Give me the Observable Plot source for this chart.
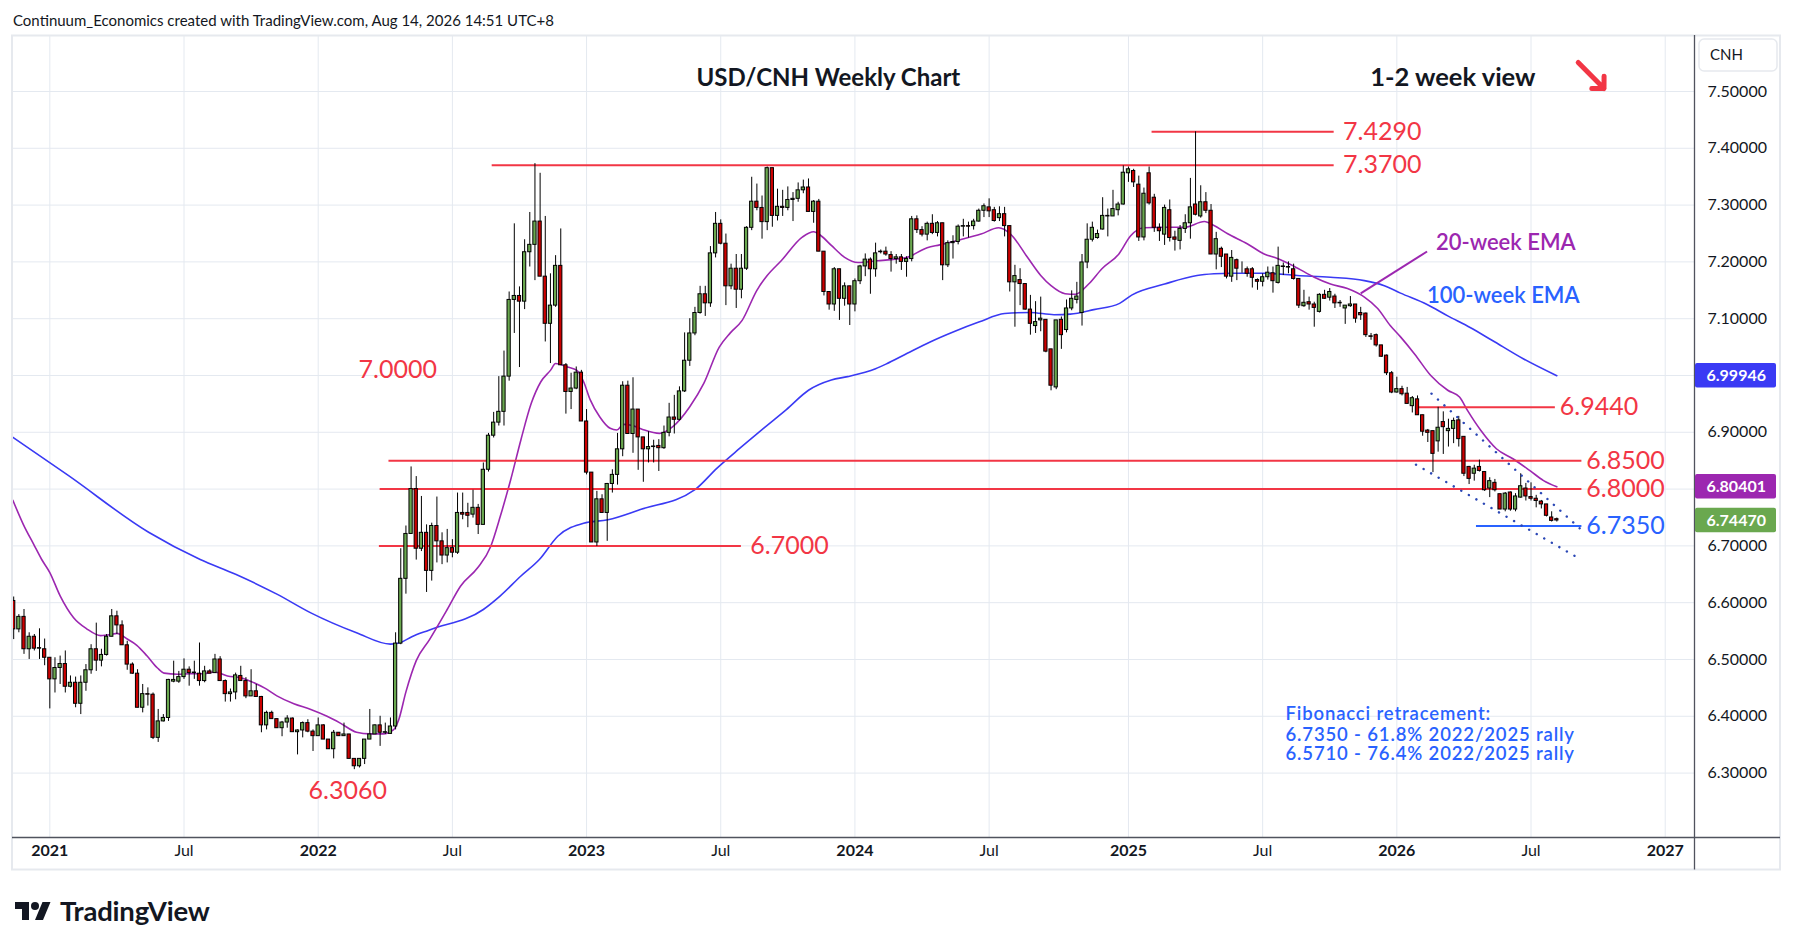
<!DOCTYPE html>
<html>
<head>
<meta charset="utf-8">
<script src="https://cdn.jsdelivr.net/npm/d3@7"></script>
<script src="https://cdn.jsdelivr.net/npm/@observablehq/plot@0.6"></script>
<style>
  html, body { margin: 0; padding: 0; background: #ffffff; }
  body { width: 1794px; height: 946px; position: relative; overflow: hidden; font-family: Lato, "Open Sans", sans-serif; }
  #attr { position: absolute; left: 13px; top: 10px; font-size: 15px; line-height: 20px; color: #131722; white-space: nowrap; }
  #chart { position: absolute; left: 0; top: 35px; }
  #logo { position: absolute; left: 14px; top: 895px; height: 30px; display: flex; align-items: center; gap: 8px; color: #131722; }
  #logo span { font-size: 27.5px; font-weight: 700; letter-spacing: -0.2px; }
</style>
</head>
<body>
<div id="attr">Continuum_Economics created with TradingView.com, Aug 14, 2026 14:51 UTC+8</div>
<div id="chart"></div>
<div id="logo">
  <svg width="38" height="24" viewBox="0 0 36 24"><path fill="#131722" d="M14 22H7V11H0V4h14v18z"/><circle fill="#131722" cx="20" cy="8" r="4"/><path fill="#131722" d="M28 22h-8l7.5-18h8L28 22z"/></svg>
  <span>TradingView</span>
</div>
<script>
// ---------------- DATA ----------------
// Weekly OHLC rows: [week (Monday), open, high, low, close]
const ohlc2020 = [
  ["2020-11-16",6.603,6.610,6.535,6.553],["2020-11-23",6.553,6.579,6.547,6.575],["2020-11-30",6.575,6.588,6.509,6.518],
  ["2020-12-07",6.518,6.547,6.500,6.540],["2020-12-14",6.540,6.544,6.515,6.519],["2020-12-21",6.519,6.554,6.500,6.520],
  ["2020-12-28",6.518,6.536,6.489,6.503]
];
const ohlc2021 = [
  ["2021-01-04",6.503,6.503,6.413,6.465],["2021-01-11",6.465,6.503,6.441,6.485],["2021-01-18",6.485,6.506,6.456,6.492],
  ["2021-01-25",6.492,6.515,6.441,6.452],["2021-02-01",6.452,6.471,6.450,6.459],["2021-02-08",6.459,6.469,6.415,6.422],
  ["2021-02-15",6.422,6.471,6.403,6.459],["2021-02-22",6.459,6.491,6.444,6.481],["2021-03-01",6.481,6.526,6.474,6.518],
  ["2021-03-08",6.518,6.564,6.479,6.498],["2021-03-15",6.498,6.518,6.487,6.508],["2021-03-22",6.508,6.544,6.506,6.540],
  ["2021-03-29",6.540,6.588,6.540,6.576],["2021-04-05",6.576,6.585,6.544,6.560],["2021-04-12",6.560,6.568,6.525,6.525],
  ["2021-04-19",6.525,6.532,6.481,6.491],["2021-04-26",6.491,6.494,6.474,6.475],["2021-05-03",6.475,6.482,6.415,6.415],
  ["2021-05-10",6.415,6.456,6.406,6.439],["2021-05-17",6.439,6.450,6.418,6.438],["2021-05-24",6.438,6.441,6.359,6.362],
  ["2021-05-31",6.362,6.412,6.354,6.391],["2021-06-07",6.391,6.403,6.390,6.397],["2021-06-14",6.397,6.465,6.391,6.464],
  ["2021-06-21",6.461,6.497,6.459,6.464],["2021-06-28",6.461,6.479,6.458,6.469],["2021-07-05",6.469,6.501,6.465,6.482],
  ["2021-07-12",6.482,6.487,6.453,6.476],["2021-07-19",6.476,6.497,6.465,6.477],["2021-07-26",6.475,6.529,6.453,6.462],
  ["2021-08-02",6.462,6.488,6.459,6.479],["2021-08-09",6.479,6.482,6.475,6.475],["2021-08-16",6.476,6.509,6.476,6.500],
  ["2021-08-23",6.500,6.505,6.462,6.462],["2021-08-30",6.462,6.464,6.425,6.439],["2021-09-06",6.439,6.448,6.425,6.442],
  ["2021-09-13",6.442,6.476,6.429,6.472],["2021-09-20",6.471,6.488,6.462,6.462],["2021-09-27",6.462,6.468,6.431,6.435],
  ["2021-10-04",6.435,6.482,6.435,6.444],["2021-10-11",6.444,6.456,6.434,6.434],["2021-10-18",6.434,6.435,6.371,6.384],
  ["2021-10-25",6.384,6.409,6.376,6.406],["2021-11-01",6.406,6.409,6.395,6.395],["2021-11-08",6.395,6.395,6.379,6.379],
  ["2021-11-15",6.379,6.391,6.364,6.389],["2021-11-22",6.389,6.401,6.379,6.396],["2021-11-29",6.396,6.397,6.372,6.372],
  ["2021-12-06",6.372,6.376,6.332,6.375],["2021-12-13",6.375,6.390,6.362,6.388],["2021-12-20",6.388,6.394,6.371,6.373],
  ["2021-12-27",6.373,6.376,6.338,6.365]
];
const ohlc2022 = [
  ["2022-01-03",6.365,6.397,6.365,6.384],["2022-01-10",6.384,6.385,6.359,6.359],["2022-01-17",6.359,6.359,6.342,6.342],
  ["2022-01-24",6.342,6.375,6.325,6.371],["2022-01-31",6.371,6.371,6.365,6.365],["2022-02-07",6.365,6.388,6.365,6.368],
  ["2022-02-14",6.368,6.368,6.325,6.325],["2022-02-21",6.325,6.325,6.306,6.312],["2022-02-28",6.312,6.325,6.309,6.325],
  ["2022-03-07",6.325,6.359,6.315,6.359],["2022-03-14",6.359,6.412,6.359,6.368],["2022-03-21",6.368,6.385,6.368,6.384],
  ["2022-03-28",6.384,6.400,6.347,6.371],["2022-04-04",6.371,6.388,6.368,6.372],["2022-04-11",6.369,6.397,6.369,6.382],
  ["2022-04-18",6.382,6.547,6.376,6.528],["2022-04-25",6.528,6.695,6.526,6.642],["2022-05-02",6.642,6.735,6.615,6.721],
  ["2022-05-09",6.721,6.839,6.721,6.800],["2022-05-16",6.800,6.822,6.675,6.695],["2022-05-23",6.695,6.787,6.690,6.723],
  ["2022-05-30",6.723,6.737,6.618,6.656],["2022-06-06",6.656,6.740,6.638,6.735],["2022-06-13",6.735,6.786,6.670,6.708],
  ["2022-06-20",6.708,6.723,6.667,6.683],["2022-06-27",6.683,6.729,6.670,6.696],["2022-07-04",6.696,6.711,6.679,6.688],
  ["2022-07-11",6.688,6.793,6.685,6.758],["2022-07-18",6.758,6.793,6.746,6.755],["2022-07-25",6.758,6.775,6.732,6.753],
  ["2022-08-01",6.755,6.798,6.749,6.767],["2022-08-08",6.767,6.773,6.720,6.737],["2022-08-15",6.737,6.846,6.737,6.834],
  ["2022-08-22",6.834,6.898,6.830,6.894],["2022-08-29",6.894,6.935,6.890,6.917],["2022-09-05",6.917,6.998,6.911,6.936],
  ["2022-09-12",6.936,7.043,6.911,6.998],["2022-09-19",6.998,7.147,6.990,7.133],["2022-09-26",7.133,7.267,7.074,7.140],
  ["2022-10-03",7.140,7.156,7.014,7.130],["2022-10-10",7.130,7.239,7.116,7.217],["2022-10-17",7.217,7.287,7.191,7.230],
  ["2022-10-24",7.230,7.373,7.167,7.271],["2022-10-31",7.271,7.356,7.174,7.174],["2022-11-07",7.174,7.280,7.059,7.091],
  ["2022-11-14",7.091,7.179,7.021,7.123],["2022-11-21",7.123,7.211,7.120,7.193],["2022-11-28",7.193,7.258,7.018,7.018],
  ["2022-12-05",7.018,7.021,6.932,6.971],["2022-12-12",6.971,7.004,6.940,6.977],["2022-12-19",6.977,7.015,6.975,7.005],
  ["2022-12-26",7.005,7.009,6.919,6.919]
];
const ohlc2023 = [
  ["2023-01-02",6.919,6.940,6.825,6.829],["2023-01-09",6.829,6.829,6.706,6.706],["2023-01-16",6.706,6.796,6.699,6.782],
  ["2023-01-23",6.782,6.790,6.758,6.758],["2023-01-30",6.758,6.810,6.708,6.809],["2023-02-06",6.809,6.834,6.793,6.825],
  ["2023-02-13",6.825,6.898,6.807,6.870],["2023-02-20",6.870,6.989,6.857,6.982],["2023-02-27",6.982,6.990,6.897,6.897],
  ["2023-03-06",6.897,6.996,6.863,6.940],["2023-03-13",6.940,6.940,6.833,6.891],["2023-03-20",6.891,6.891,6.812,6.870],
  ["2023-03-27",6.870,6.901,6.846,6.874],["2023-04-03",6.874,6.886,6.846,6.875],["2023-04-10",6.876,6.887,6.831,6.872],
  ["2023-04-17",6.872,6.911,6.870,6.899],["2023-04-24",6.899,6.951,6.892,6.926],["2023-05-01",6.926,6.965,6.897,6.922],
  ["2023-05-08",6.922,6.980,6.920,6.972],["2023-05-15",6.972,7.075,6.970,7.026],["2023-05-22",7.026,7.100,7.016,7.074],
  ["2023-05-29",7.074,7.120,7.070,7.110],["2023-06-05",7.110,7.157,7.108,7.143],["2023-06-12",7.143,7.157,7.104,7.127],
  ["2023-06-19",7.127,7.227,7.120,7.215],["2023-06-26",7.215,7.287,7.207,7.267],["2023-07-03",7.267,7.274,7.230,7.232],
  ["2023-07-10",7.232,7.249,7.123,7.157],["2023-07-17",7.157,7.196,7.151,7.188],["2023-07-24",7.188,7.213,7.118,7.151],
  ["2023-07-31",7.151,7.213,7.135,7.188],["2023-08-07",7.188,7.262,7.185,7.260],["2023-08-14",7.260,7.349,7.255,7.306],
  ["2023-08-21",7.306,7.337,7.290,7.295],["2023-08-28",7.295,7.316,7.240,7.270],["2023-09-04",7.270,7.367,7.255,7.365],
  ["2023-09-11",7.365,7.365,7.261,7.281],["2023-09-18",7.281,7.328,7.272,7.297],["2023-09-25",7.297,7.326,7.280,7.295],
  ["2023-10-02",7.295,7.332,7.290,7.309],["2023-10-09",7.309,7.322,7.271,7.311],["2023-10-16",7.311,7.339,7.305,7.326],
  ["2023-10-23",7.326,7.344,7.320,7.331],["2023-10-30",7.331,7.346,7.288,7.288],["2023-11-06",7.288,7.308,7.268,7.306],
  ["2023-11-13",7.306,7.310,7.218,7.218],["2023-11-20",7.218,7.218,7.140,7.147],["2023-11-27",7.147,7.147,7.115,7.125],
  ["2023-12-04",7.125,7.190,7.113,7.187],["2023-12-11",7.187,7.187,7.097,7.135],["2023-12-18",7.135,7.163,7.122,7.157],
  ["2023-12-25",7.157,7.157,7.088,7.125]
];
const ohlc2024 = [
  ["2024-01-01",7.125,7.170,7.112,7.166],["2024-01-08",7.166,7.194,7.160,7.192],["2024-01-15",7.192,7.214,7.174,7.204],
  ["2024-01-22",7.204,7.207,7.143,7.187],["2024-01-29",7.187,7.233,7.173,7.215],["2024-02-05",7.217,7.221,7.214,7.218],
  ["2024-02-12",7.218,7.226,7.210,7.213],["2024-02-19",7.212,7.218,7.182,7.205],["2024-02-26",7.205,7.213,7.196,7.208],
  ["2024-03-04",7.208,7.213,7.185,7.200],["2024-03-11",7.200,7.209,7.173,7.205],["2024-03-18",7.205,7.280,7.200,7.275],
  ["2024-03-25",7.275,7.281,7.250,7.256],["2024-04-01",7.256,7.262,7.244,7.248],["2024-04-08",7.248,7.270,7.237,7.267],
  ["2024-04-15",7.267,7.283,7.248,7.251],["2024-04-22",7.251,7.271,7.244,7.268],["2024-04-29",7.268,7.268,7.167,7.194],
  ["2024-05-06",7.194,7.237,7.190,7.233],["2024-05-13",7.233,7.246,7.205,7.235],["2024-05-20",7.235,7.265,7.230,7.262],
  ["2024-05-27",7.262,7.275,7.244,7.263],["2024-06-03",7.263,7.270,7.242,7.262],["2024-06-10",7.263,7.275,7.256,7.271],
  ["2024-06-17",7.271,7.293,7.270,7.290],["2024-06-24",7.290,7.302,7.278,7.298],["2024-07-01",7.296,7.311,7.278,7.289],
  ["2024-07-08",7.291,7.296,7.270,7.272],["2024-07-15",7.277,7.297,7.271,7.284],["2024-07-22",7.284,7.296,7.244,7.263],
  ["2024-07-29",7.263,7.263,7.147,7.164],["2024-08-05",7.164,7.194,7.085,7.175],["2024-08-12",7.168,7.188,7.123,7.161],
  ["2024-08-19",7.161,7.161,7.115,7.116],["2024-08-26",7.116,7.141,7.071,7.091],["2024-09-02",7.087,7.130,7.074,7.094],
  ["2024-09-09",7.097,7.138,7.077,7.100],["2024-09-16",7.098,7.098,7.040,7.042],["2024-09-23",7.046,7.046,6.973,6.982],
  ["2024-09-30",6.979,7.097,6.975,7.097],["2024-10-07",7.098,7.103,7.046,7.071],["2024-10-14",7.080,7.133,7.075,7.118],
  ["2024-10-21",7.118,7.149,7.114,7.135],["2024-10-28",7.133,7.164,7.126,7.139],["2024-11-04",7.110,7.213,7.087,7.199],
  ["2024-11-11",7.199,7.267,7.188,7.239],["2024-11-18",7.239,7.270,7.235,7.260],["2024-11-25",7.242,7.256,7.240,7.249],
  ["2024-12-02",7.257,7.313,7.256,7.281],["2024-12-09",7.281,7.293,7.244,7.280],["2024-12-16",7.280,7.326,7.280,7.293],
  ["2024-12-23",7.291,7.305,7.281,7.301],["2024-12-30",7.301,7.369,7.300,7.357]
];
const ohlc2025 = [
  ["2025-01-06",7.356,7.367,7.340,7.363],["2025-01-13",7.360,7.363,7.331,7.340],["2025-01-20",7.336,7.351,7.236,7.243],
  ["2025-01-27",7.243,7.330,7.237,7.320],["2025-02-03",7.356,7.367,7.300,7.303],["2025-02-10",7.313,7.319,7.252,7.260],
  ["2025-02-17",7.260,7.267,7.236,7.254],["2025-02-24",7.248,7.300,7.229,7.295],["2025-03-03",7.291,7.309,7.235,7.242],
  ["2025-03-10",7.243,7.254,7.219,7.239],["2025-03-17",7.237,7.264,7.221,7.258],["2025-03-24",7.258,7.283,7.250,7.268],
  ["2025-03-31",7.268,7.347,7.240,7.296],["2025-04-07",7.301,7.429,7.281,7.283],["2025-04-14",7.280,7.334,7.277,7.305],
  ["2025-04-21",7.305,7.322,7.285,7.290],["2025-04-28",7.290,7.301,7.213,7.213],["2025-05-05",7.213,7.252,7.186,7.240],
  ["2025-05-12",7.223,7.226,7.190,7.209],["2025-05-19",7.213,7.213,7.170,7.174],["2025-05-26",7.174,7.220,7.164,7.207],
  ["2025-06-02",7.203,7.205,7.167,7.188],["2025-06-09",7.192,7.200,7.180,7.192],["2025-06-16",7.187,7.191,7.173,7.179],
  ["2025-06-23",7.187,7.190,7.154,7.172],["2025-06-30",7.168,7.170,7.150,7.165],["2025-07-07",7.165,7.179,7.156,7.173],
  ["2025-07-14",7.173,7.191,7.168,7.181],["2025-07-21",7.180,7.191,7.145,7.166],["2025-07-28",7.163,7.226,7.161,7.193],
  ["2025-08-04",7.192,7.198,7.176,7.191],["2025-08-11",7.191,7.200,7.179,7.190],["2025-08-18",7.187,7.196,7.168,7.170],
  ["2025-08-25",7.170,7.170,7.118,7.123],["2025-09-01",7.122,7.150,7.120,7.128],["2025-09-08",7.129,7.138,7.115,7.125],
  ["2025-09-15",7.125,7.129,7.085,7.119],["2025-09-22",7.112,7.144,7.110,7.142],["2025-09-29",7.142,7.150,7.134,7.135],
  ["2025-10-06",7.137,7.153,7.131,7.147],["2025-10-13",7.139,7.143,7.118,7.127],["2025-10-20",7.128,7.132,7.120,7.127],
  ["2025-10-27",7.118,7.123,7.090,7.123],["2025-11-03",7.122,7.139,7.120,7.125],["2025-11-10",7.125,7.125,7.092,7.100],
  ["2025-11-17",7.110,7.120,7.097,7.106],["2025-11-24",7.109,7.110,7.067,7.071],["2025-12-01",7.069,7.074,7.062,7.068],
  ["2025-12-08",7.071,7.073,7.050,7.053],["2025-12-15",7.053,7.053,7.032,7.033],["2025-12-22",7.035,7.036,7.000,7.004],
  ["2025-12-29",7.004,7.007,6.968,6.970]
];
const ohlc2026 = [
  ["2026-01-05",6.970,6.997,6.969,6.976],["2026-01-12",6.976,6.981,6.964,6.967],["2026-01-19",6.968,6.979,6.950,6.950],
  ["2026-01-26",6.946,6.963,6.934,6.960],["2026-02-02",6.958,6.964,6.930,6.930],["2026-02-09",6.930,6.930,6.893,6.901],
  ["2026-02-16",6.903,6.905,6.882,6.899],["2026-02-23",6.902,6.902,6.829,6.862],["2026-03-02",6.884,6.944,6.865,6.908],
  ["2026-03-09",6.918,6.936,6.861,6.909],["2026-03-16",6.902,6.923,6.874,6.906],["2026-03-23",6.906,6.925,6.880,6.920],
  ["2026-03-30",6.921,6.928,6.874,6.888],["2026-04-06",6.892,6.892,6.822,6.827],["2026-04-13",6.839,6.840,6.808,6.818],
  ["2026-04-20",6.827,6.842,6.814,6.836],["2026-04-27",6.839,6.851,6.830,6.832],["2026-05-04",6.830,6.830,6.796,6.798],
  ["2026-05-11",6.801,6.820,6.785,6.814],["2026-05-18",6.811,6.817,6.795,6.798],["2026-05-25",6.791,6.791,6.764,6.764],
  ["2026-06-01",6.764,6.794,6.760,6.792],["2026-06-08",6.794,6.795,6.761,6.764],["2026-06-15",6.764,6.792,6.760,6.787],
  ["2026-06-22",6.785,6.827,6.784,6.805],["2026-06-29",6.801,6.810,6.779,6.787],["2026-07-06",6.786,6.811,6.779,6.783],
  ["2026-07-13",6.783,6.789,6.767,6.779],["2026-07-20",6.778,6.780,6.765,6.773],["2026-07-27",6.773,6.773,6.751,6.753],
  ["2026-08-03",6.750,6.760,6.742,6.744],["2026-08-10",6.747,6.749,6.742,6.7447]
];

// 20-week EMA: [date, value]
const ema20Points = [
  ["2020-11-15",6.780],["2020-11-29",6.738],["2020-12-13",6.703],["2020-12-24",6.676],["2021-01-04",6.653],
  ["2021-01-18",6.612],["2021-02-05",6.574],["2021-02-23",6.554],["2021-03-14",6.542],["2021-03-28",6.544],
  ["2021-04-05",6.546],["2021-04-19",6.536],["2021-05-02",6.525],["2021-05-16",6.506],["2021-05-30",6.485],
  ["2021-06-08",6.476],["2021-06-26",6.474],["2021-07-14",6.475],["2021-08-01",6.475],["2021-08-15",6.478],
  ["2021-09-02",6.471],["2021-09-20",6.468],["2021-10-08",6.459],["2021-10-22",6.450],["2021-11-08",6.436],
  ["2021-12-01",6.422],["2021-12-24",6.412],["2022-01-15",6.400],["2022-02-02",6.388],["2022-02-24",6.372],
  ["2022-03-14",6.369],["2022-04-01",6.369],["2022-04-15",6.376],["2022-04-22",6.393],["2022-05-02",6.443],
  ["2022-05-16",6.498],["2022-06-03",6.535],["2022-06-27",6.588],["2022-07-15",6.629],["2022-08-07",6.661],
  ["2022-08-25",6.699],["2022-09-07",6.752],["2022-09-21",6.816],["2022-10-05",6.887],["2022-10-19",6.951],
  ["2022-11-01",6.989],["2022-11-14",7.009],["2022-11-21",7.021],["2022-12-07",7.015],["2022-12-20",7.009],
  ["2022-12-29",6.989],["2023-01-07",6.957],["2023-01-20",6.927],["2023-02-03",6.907],["2023-02-12",6.904],
  ["2023-02-21",6.914],["2023-03-05",6.912],["2023-03-19",6.905],["2023-04-11",6.898],["2023-04-29",6.910],
  ["2023-05-22",6.945],["2023-06-10",6.986],["2023-07-01",7.050],["2023-07-16",7.075],["2023-08-01",7.097],
  ["2023-08-21",7.150],["2023-09-04",7.176],["2023-09-23",7.202],["2023-10-22",7.244],["2023-11-06",7.253],
  ["2023-11-16",7.246],["2023-11-30",7.229],["2023-12-18",7.208],["2024-01-05",7.199],["2024-02-01",7.202],
  ["2024-02-20",7.204],["2024-03-12",7.208],["2024-04-08",7.225],["2024-04-25",7.230],["2024-05-23",7.239],
  ["2024-06-20",7.249],["2024-07-14",7.260],["2024-07-30",7.249],["2024-08-22",7.208],["2024-09-09",7.176],
  ["2024-09-23",7.158],["2024-10-12",7.144],["2024-10-26",7.143],["2024-11-13",7.161],["2024-12-01",7.188],
  ["2024-12-24",7.214],["2025-01-09",7.246],["2025-01-27",7.260],["2025-02-24",7.261],["2025-03-23",7.261],
  ["2025-04-19",7.271],["2025-05-02",7.264],["2025-05-20",7.250],["2025-06-16",7.232],["2025-07-09",7.214],
  ["2025-07-27",7.206],["2025-08-19",7.192],["2025-09-15",7.173],["2025-10-07",7.161],["2025-10-30",7.153],
  ["2025-11-22",7.138],["2025-12-10",7.118],["2025-12-27",7.088],["2026-01-10",7.068],["2026-01-29",7.038],
  ["2026-02-20",7.000],["2026-03-15",6.974],["2026-03-31",6.962],["2026-04-11",6.938],["2026-04-29",6.903],
  ["2026-05-20",6.871],["2026-06-12",6.853],["2026-07-05",6.832],["2026-07-23",6.815],["2026-08-10",6.804]
];
// 100-week EMA: [date, value]
const ema100Points = [
  ["2020-11-15",6.891],["2021-01-29",6.824],["2021-05-18",6.724],["2021-07-27",6.676],["2021-09-13",6.650],
  ["2021-11-08",6.615],["2021-12-24",6.582],["2022-02-24",6.547],["2022-04-11",6.527],["2022-04-25",6.530],
  ["2022-05-10",6.540],["2022-06-03",6.552],["2022-08-15",6.588],["2022-09-07",6.612],["2022-10-05",6.647],
  ["2022-10-30",6.676],["2022-11-24",6.717],["2022-12-29",6.740],["2023-01-31",6.746],["2023-03-16",6.764],
  ["2023-05-29",6.799],["2023-06-28",6.837],["2023-07-29",6.872],["2023-08-30",6.907],["2023-09-30",6.940],
  ["2023-10-30",6.974],["2023-11-30",6.992],["2023-12-22",6.998],["2024-01-29",7.012],["2024-02-12",7.020],
  ["2024-03-12",7.039],["2024-04-12",7.059],["2024-05-14",7.077],["2024-06-17",7.094],["2024-07-22",7.109],
  ["2024-08-26",7.111],["2024-09-27",7.107],["2024-10-19",7.108],["2024-11-20",7.116],["2024-12-25",7.127],
  ["2025-01-11",7.142],["2025-02-24",7.161],["2025-04-09",7.176],["2025-05-02",7.179],["2025-05-25",7.180],
  ["2025-07-09",7.180],["2025-08-23",7.176],["2025-10-07",7.173],["2025-11-22",7.167],["2025-12-19",7.158],
  ["2026-01-10",7.145],["2026-02-15",7.125],["2026-03-15",7.105],["2026-04-15",7.084],["2026-05-14",7.062],
  ["2026-06-26",7.029],["2026-08-10",6.9995]
];
const lastEma100 = 6.99946, lastEma20 = 6.80401, lastClose = 6.74470;

// Horizontal levels (red) and their date spans
const redLevels     = [7.4290, 7.3700, 6.9440, 6.8500, 6.8000, 6.7000];
const redLevelFrom  = ["2025-02-07","2022-08-27","2026-02-03","2022-04-09","2022-03-28","2022-03-27"];
const redLevelTo    = ["2025-10-12","2025-10-12","2026-08-08","2026-09-13","2026-09-13","2023-07-31"];
const redLabelAt    = ["2025-10-24","2025-10-24","2026-08-14","2026-09-19","2026-09-19","2023-08-12"];
const fibLevel = 6.7350, fibFrom = "2026-04-23", fibTo = "2026-09-13", fibLabelAt = "2026-09-19";
const extraLabels = [ ["7.0000","2022-04-21",7.009], ["6.3060","2022-02-12",6.268] ];

// Falling channel (dotted)
const channelStart = [["2026-02-21",6.968],["2026-01-31",6.843]];
const channelEnd   = [["2026-09-10",6.731],["2026-09-05",6.681]];

const fibNotes = ["Fibonacci retracement:", "6.7350 - 61.8% 2022/2025 rally", "6.5710 - 76.4% 2022/2025 rally"];
const fibNoteY = [6.4032, 6.3671, 6.3327];

// Axis ticks
const priceTicks = [7.5,7.4,7.3,7.2,7.1,7.0,6.9,6.8,6.7,6.6,6.5,6.4,6.3];
const priceLabelTicks = [7.5,7.4,7.3,7.2,7.1,6.9,6.7,6.6,6.5,6.4,6.3];
const yearTicks = ["2021-01-04","2022-01-03","2023-01-02","2024-01-01","2025-01-06","2026-01-05","2027-01-04"];
const julTicks  = ["2021-07-05","2022-07-04","2023-07-03","2024-07-01","2025-07-07","2026-07-06"];

// ---------------- BUILD ----------------
const D = s => new Date(s + "T00:00:00Z");
const candles = [...ohlc2020, ...ohlc2021, ...ohlc2022, ...ohlc2023, ...ohlc2024, ...ohlc2025, ...ohlc2026]
  .map(([d,o,h,l,c]) => ({date: D(d), open: o, high: h, low: l, close: c}));
const ema20 = ema20Points.map(([d,v]) => ({date: D(d), v}));
const ema100 = ema100Points.map(([d,v]) => ({date: D(d), v}));
const levels = redLevels.map((p,i) => ({p, from: D(redLevelFrom[i]), to: D(redLevelTo[i]), at: D(redLabelAt[i]), label: p.toFixed(4)}));
const channels = channelStart.map((s,i) => ({x1: D(s[0]), y1: s[1], x2: D(channelEnd[i][0]), y2: channelEnd[i][1]}));

const RED = "#f23645", BLUE = "#2962ff", PURPLE = "#9c27b0", EMA_BLUE = "#3a3af4";
const BULL = "#6aa84f", BEAR = "#cc0000", INK = "#131722", GRID = "#e4e9f0";
const halfBody = 2.2 * 864e5;

const xDomain = [new Date(Date.UTC(2020,10,15,4,48)), new Date(Date.UTC(2027,1,13,9,36))];
const yDomain = [6.1857, 7.5977];
const FONT = "Lato, 'Open Sans', sans-serif";

const plot = Plot.plot({
  width: 1794, height: 835,
  marginLeft: 12.6, marginRight: 99.5, marginTop: 0.5, marginBottom: 32.5,
  x: {type: "utc", domain: xDomain},
  y: {domain: yDomain},
  style: {fontFamily: FONT, background: "white", overflow: "visible"},
  marks: [
    Plot.gridY(priceTicks, {stroke: GRID, strokeOpacity: 1, strokeWidth: 1}),
    Plot.gridX(yearTicks.concat(julTicks).map(D), {stroke: GRID, strokeOpacity: 1, strokeWidth: 1}),
    // EMAs
    Plot.line(ema100, {x: "date", y: "v", stroke: EMA_BLUE, strokeWidth: 1.6, curve: "monotone-x"}),
    Plot.line(ema20, {x: "date", y: "v", stroke: PURPLE, strokeWidth: 1.6, curve: "monotone-x"}),
    // Levels
    Plot.ruleY(levels, {y: "p", x1: "from", x2: "to", stroke: RED, strokeWidth: 2}),
    Plot.ruleY([fibLevel], {x1: D(fibFrom), x2: D(fibTo), stroke: BLUE, strokeWidth: 2}),
    // Candles
    Plot.ruleX(candles, {x: "date", y1: "low", y2: "high", stroke: "#000", strokeWidth: 1}),
    Plot.rect(candles, {
      x1: d => new Date(+d.date - halfBody), x2: d => new Date(+d.date + halfBody),
      y1: "open", y2: "close",
      fill: d => d.close >= d.open ? BULL : BEAR, stroke: "#000", strokeWidth: 1
    }),
    // Channel
    Plot.link(channels, {x1: "x1", y1: "y1", x2: "x2", y2: "y2", stroke: "#2b47b5", strokeWidth: 2.4,
      strokeDasharray: "0.1,8.6", strokeLinecap: "round"}),
    // EMA connector
    Plot.link([{a: D("2025-11-17"), b: 7.1444, c: D("2026-02-15"), d: 7.2183}],
      {x1: "a", y1: "b", x2: "c", y2: "d", stroke: PURPLE, strokeWidth: 2}),
    // Arrow
    Plot.arrow([{a: D("2026-09-08"), b: 7.5511, c: D("2026-10-13"), d: 7.5053}],
      {x1: "a", y1: "b", x2: "c", y2: "d", stroke: RED, strokeWidth: 5, headLength: 13, headAngle: 90, strokeLinecap: "round"}),
    // Labels
    Plot.text(levels, {x: "at", y: "p", text: "label", fill: RED, fontSize: 25, textAnchor: "start", fontFamily: FONT}),
    Plot.text([fibLevel], {x: D(fibLabelAt), y: d => d, text: d => d.toFixed(4), fill: BLUE, fontSize: 25, textAnchor: "start", fontFamily: FONT}),
    Plot.text(extraLabels, {x: d => D(d[1]), y: d => d[2], text: d => d[0], fill: RED, fontSize: 25, textAnchor: "middle", fontFamily: FONT}),
    Plot.text(["USD/CNH Weekly Chart"], {x: D("2023-11-26"), y: 7.5232, text: d => d, fill: INK, fontSize: 24, fontWeight: "bold", fontFamily: FONT}),
    Plot.text(["1-2 week view"], {x: D("2026-03-22"), y: 7.5246, text: d => d, fill: INK, fontSize: 25.5, fontWeight: "bold", fontFamily: FONT}),
    Plot.text(["20-week EMA"], {x: D("2026-02-27"), y: 7.2342, text: d => d, fill: PURPLE, fontSize: 22, fontWeight: 600, textAnchor: "start", fontFamily: FONT}),
    Plot.text(["100-week EMA"], {x: D("2026-02-15"), y: 7.1408, text: d => d, fill: BLUE, fontSize: 22, fontWeight: 600, textAnchor: "start", fontFamily: FONT}),
    Plot.text(fibNotes, {x: D("2025-08-07"), y: (d,i) => fibNoteY[i], text: d => d, fill: BLUE, fontSize: 18.5, fontWeight: 600, textAnchor: "start", fontFamily: FONT}),
    // Axes
    Plot.axisY(priceLabelTicks, {anchor: "right", tickSize: 0, tickPadding: 12.5, fontSize: 16, fill: INK,
      tickFormat: d3.format(".5f"), label: null, fontFamily: FONT}),
    Plot.axisX(yearTicks.map(D), {anchor: "bottom", tickSize: 0, tickPadding: 6.5, fontSize: 16, fontWeight: "bold", fill: INK,
      tickFormat: d => String(d.getUTCFullYear()), label: null, fontFamily: FONT}),
    Plot.axisX(julTicks.map(D), {anchor: "bottom", tickSize: 0, tickPadding: 6.5, fontSize: 16, fill: INK,
      tickFormat: () => "Jul", label: null, fontFamily: FONT})
  ]
});

document.getElementById("chart").appendChild(plot);

// Slightly widen the Fibonacci note (wider face in the original)
d3.select(plot).selectAll("text").filter(function() {
  return fibNotes.includes(this.textContent);
}).style("letter-spacing", "0.85px");

// Panel frame, axis lines and price boxes (placed with the plot's own y scale)
const svg = d3.select(plot);
const ys = plot.scale("y");
const axisX = 1794 - 99.5, plotBottom = 835 - 32.5;
const deco = svg.append("g").attr("text-anchor", "start");
deco.append("rect").attr("x", 12).attr("y", 0.5).attr("width", 1780 - 12).attr("height", 834)
  .attr("fill", "none").attr("stroke", "#e6e9ee").attr("stroke-width", 2);
deco.append("line").attr("x1", axisX).attr("x2", axisX).attr("y1", 0).attr("y2", 834.5)
  .attr("stroke", "#50535e").attr("stroke-width", 1.3);
deco.append("line").attr("x1", 12).attr("x2", 1780).attr("y1", plotBottom).attr("y2", plotBottom)
  .attr("stroke", "#50535e").attr("stroke-width", 1.3);
// CNH box
deco.append("rect").attr("x", 1699).attr("y", 4).attr("width", 78).attr("height", 32).attr("rx", 5)
  .attr("fill", "#fff").attr("stroke", "#e6e9ee").attr("stroke-width", 1.5);
deco.append("text").attr("x", 1710).attr("y", 20).attr("dy", "0.35em").attr("font-size", 15)
  .attr("text-anchor", "start").attr("font-family", FONT).attr("fill", INK).text("CNH");
// Price boxes
[[lastEma100, EMA_BLUE], [lastEma20, PURPLE], [lastClose, BULL]].forEach(([v, col]) => {
  const y = ys.apply(v);
  deco.append("rect").attr("x", axisX + 0.5).attr("y", y - 12.2).attr("width", 81).attr("height", 24.4).attr("rx", 2).attr("fill", col);
  deco.append("text").attr("x", axisX + 12).attr("y", y).attr("dy", "0.36em").attr("font-size", 16).attr("font-weight", 700)
    .attr("text-anchor", "start").attr("font-family", FONT).attr("fill", "#fff").text(v.toFixed(5));
});
</script>
</body>
</html>
